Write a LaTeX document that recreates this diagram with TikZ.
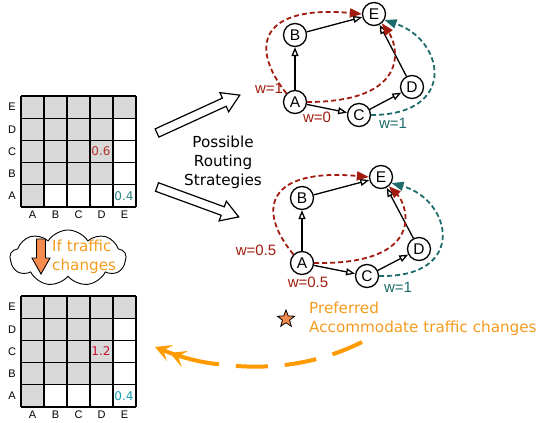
\documentclass[tikz,border=0pt]{standalone}
\usepackage{fontspec}
\setmainfont{DejaVu Sans}
\newfontfamily\helv{Liberation Sans}
\usetikzlibrary{arrows.meta,shapes.geometric,shapes.symbols}

\definecolor{cellgray}{HTML}{D9D9D9}
\definecolor{wred}{HTML}{A11B0E}
\definecolor{wteal}{HTML}{1D6B6B}
\definecolor{vred}{HTML}{B2342A}
\definecolor{vcrimson}{HTML}{C8102E}
\definecolor{vteal}{HTML}{2A8585}
\definecolor{vcyan}{HTML}{1AA2AE}
\definecolor{otext}{HTML}{F59B1E}
\definecolor{ofill}{HTML}{F58B4C}
\definecolor{oline}{HTML}{FF9A00}

% traffic matrix: #1 top y, #2 value in (D,C), #3 its colour, #4 colour of 0.4, #5 name prefix
\newcommand\costgrid[5]{%
  \foreach \r in {0,...,4}{\foreach \c in {0,...,4}{%
    \pgfmathtruncatemacro\isgray{(\r==0)||((\r<4)&&(\c<4))||(\c==0)}%
    \ifnum\isgray=1 \fill[cellgray] (21+23*\c,#1+22.2*\r) rectangle ++(23,22.2);\fi
  }}
  \foreach \i in {0,...,5}{%
    \draw[gridline] (21+23*\i,#1) -- (21+23*\i,#1+111);
    \draw[gridline] (21,#1+22.2*\i) -- (136,#1+22.2*\i);
  }
  \foreach \lbl [count=\r from 0] in {E,D,C,B,A}
    \node[axlab] (#5row\lbl) at (12,#1+11.1+22.2*\r) {\lbl};
  \foreach \lbl [count=\c from 0] in {A,B,C,D,E}
    \node[axlab] (#5col\lbl) at (32.5+23*\c,#1+119) {\lbl};
  \node[val,text=#3] (#5dc) at (101,#1+55.5) {#2};
  \node[val,text=#4] (#5ea) at (124,#1+99.9) {0.4};
}

\begin{document}
\begin{tikzpicture}[x=1pt,y=-1pt,
  gridline/.style={line width=1.3pt},
  axlab/.style={font=\helv\fontsize{11}{11}\selectfont,inner sep=0pt},
  val/.style={font=\fontsize{12}{12}\selectfont,inner sep=0pt},
  gnode/.style={circle,draw,line width=1.3pt,fill=white,minimum size=23pt,inner sep=0pt,
    font=\helv\fontsize{15.5}{15.5}\selectfont},
  gedge/.style={line width=1.3pt,-{Triangle[open,length=9pt,width=7pt]}},
  redpath/.style={draw=wred,line width=1.8pt,dash pattern=on 5pt off 3pt,
    -{Triangle[length=12pt,width=9pt,fill=wred]}},
  tealpath/.style={draw=wteal,line width=1.8pt,dash pattern=on 5pt off 3pt,
    -{Triangle[length=12pt,width=9pt,fill=wteal]}},
  wlab/.style={font=\helv\fontsize{15}{15}\selectfont,inner sep=0pt},
  bigtext/.style={font=\fontsize{15.2}{19}\selectfont,inner sep=0pt},
  blockarrow/.style={draw,line width=1.2pt,fill=white,line join=miter},
  orangearrow/.style={oline,line width=4pt},
]
\useasboundingbox (0,0) rectangle (539,423);

% traffic matrices
\costgrid{96}{0.6}{vred}{vteal}{m1}
\costgrid{296}{1.2}{vcrimson}{vcyan}{m2}

% cloud with downward arrow
\node[cloud,draw,line width=0.9pt,cloud puffs=9,cloud puff arc=115,aspect=2.1,
  minimum width=116pt,minimum height=56pt,inner sep=0pt] (cloud) at (68,258) {};
\draw[fill=ofill,line width=0.9pt,line join=miter]
  (36.5,239) -- (45.5,239) -- (45.5,258) -- (50,258) -- (41,274) -- (32,258) -- (36.5,258) -- cycle;
\node[bigtext,text=otext,align=left,anchor=west] (iftraffic) at (52,257) {If traffic\\changes};

% block arrows to the two strategies
\begin{scope}[shift={(157,133)},rotate=24.6]
  \draw[blockarrow] (0,-4.5) -- (74,-4.5) -- (74,-10.5) -- (91,0) -- (74,10.5) -- (74,4.5) -- (0,4.5) -- cycle;
\end{scope}
\begin{scope}[shift={(157,187)},rotate=-20.1]
  \draw[blockarrow] (0,-4.5) -- (70,-4.5) -- (70,-10.5) -- (87,0) -- (70,10.5) -- (70,4.5) -- (0,4.5) -- cycle;
\end{scope}
\node[bigtext,align=center] (strategies) at (223,162) {Possible\\Routing\\Strategies};

% strategy 1
\node[gnode] (E1) at (374,14) {E};
\node[gnode] (B1) at (295,35) {B};
\node[gnode] (A1) at (295,102) {A};
\node[gnode] (C1) at (359,115) {C};
\node[gnode] (D1) at (412,87) {D};
\draw[gedge] (A1) -- (B1);
\draw[gedge] (B1) -- (E1);
\draw[gedge] (A1) -- (C1);
\draw[gedge] (C1) -- (D1);
\draw[gedge] (D1) -- (E1);
\draw[redpath] (A1.135) .. controls (248,45) and (262,5) .. (E1.west);
\draw[redpath] (A1.0) .. controls (412,102) and (398,45) .. (E1.-50);
\draw[tealpath] (C1.east) .. controls (458,115) and (445,40) .. (E1.-30);
\node[wlab,text=wred] (w1a) at (269,88) {w=1};
\node[wlab,text=wred] (w1b) at (317,117) {w=0};
\node[wlab,text=wteal] (w1c) at (393,123) {w=1};

% strategy 2
\node[gnode] (E2) at (381,177) {E};
\node[gnode] (B2) at (302,198) {B};
\node[gnode] (A2) at (302,263) {A};
\node[gnode] (C2) at (367,276) {C};
\node[gnode] (D2) at (419,249) {D};
\draw[gedge] (A2) -- (B2);
\draw[gedge] (B2) -- (E2);
\draw[gedge] (A2) -- (C2);
\draw[gedge] (C2) -- (D2);
\draw[gedge] (D2) -- (E2);
\draw[redpath] (A2.135) .. controls (255,208) and (269,168) .. (E2.west);
\draw[redpath] (A2.0) .. controls (427,265) and (408,205) .. (E2.-50);
\draw[tealpath] (C2.east) .. controls (468,278) and (452,200) .. (E2.-30);
\node[wlab,text=wred] (w2a) at (256,250) {w=0.5};
\node[wlab,text=wred] (w2b) at (308,282) {w=0.5};
\node[wlab,text=wteal] (w2c) at (398,287) {w=1};

% preferred strategy
\node[star,star points=5,star point ratio=2.4,minimum size=18pt,inner sep=0pt,
  draw,line width=0.8pt,fill=ofill] (star) at (286,319) {};
\node[bigtext,text=otext,align=left,anchor=west] (pref) at (309,318.5) {Preferred\\Accommodate traffic changes};

% dashed feedback arrow back to the second matrix
\coordinate (arrowstart) at (362,342);
\coordinate (arrowneck) at (217,364);
\coordinate (arrowend) at (155,347);
\draw[orangearrow,dash pattern=on 32pt off 17pt]
  (arrowstart) .. controls (312,367) and (262,370) .. (arrowneck);
\draw[orangearrow,
  -{Stealth[length=16pt,width=17pt,inset=7pt]Stealth[length=16pt,width=17pt,inset=7pt]}]
  (arrowneck) .. controls (196,362) and (175,355) .. (arrowend);
\end{tikzpicture}
\end{document}
